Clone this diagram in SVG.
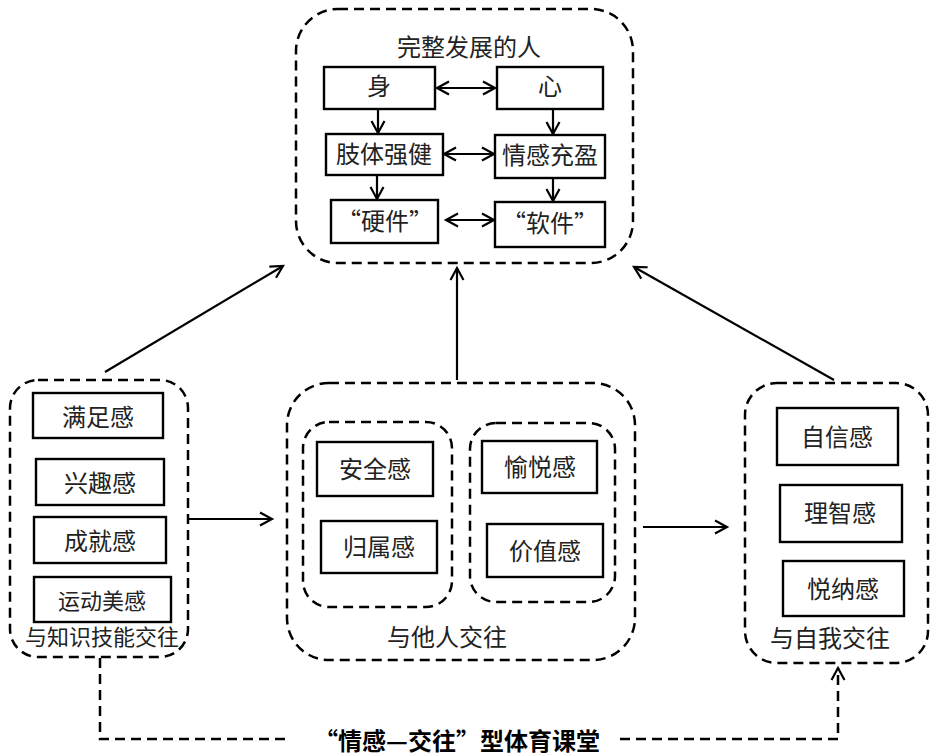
<svg xmlns="http://www.w3.org/2000/svg" width="940" height="756" viewBox="0 0 940 756">
<defs>
<marker id="ah" markerWidth="16" markerHeight="16" refX="13" refY="8" orient="auto-start-reverse" markerUnits="userSpaceOnUse">
<path d="M1,1.5 L13,8 L1,14.5" fill="none" stroke="#000" stroke-width="2.2"/>
</marker>
<style>
.box{fill:#fff;stroke:#000;stroke-width:2.4}
.dash{fill:none;stroke:#000;stroke-width:2.5;stroke-dasharray:10 6}
.t{font-family:"Noto Sans CJK SC","Noto Sans",sans-serif;font-size:24px;fill:#222;text-anchor:middle;dominant-baseline:central}
.ln{fill:none;stroke:#000;stroke-width:2.2}
.title{font-family:"Noto Sans CJK SC","Noto Sans",sans-serif;font-size:24px;font-weight:bold;fill:#000;text-anchor:middle;dominant-baseline:central}
</style>
</defs>
<rect width="940" height="756" fill="#fff"/>

<g id="top">
<rect class="dash" x="296" y="9" width="337" height="254" rx="42"/>
<text class="t" x="469" y="45">完整发展的人</text>
</g>
<g id="shen"><rect class="box" x="324" y="67" width="111" height="42"/><text class="t" x="379" y="84">身</text></g>
<g id="xin"><rect class="box" x="497" y="67" width="106" height="42"/><text class="t" x="550" y="84">心</text></g>
<g id="zhiti"><rect class="box" x="326" y="134" width="117" height="41"/><text class="t" x="384" y="152">肢体强健</text></g>
<g id="qinggan"><rect class="box" x="495" y="135" width="110" height="43"/><text class="t" x="550" y="153">情感充盈</text></g>
<g id="yingjian"><rect class="box" x="331" y="200" width="107" height="43"/><text class="t" x="385" y="219">“硬件”</text></g>
<g id="ruanjian"><rect class="box" x="495" y="202" width="110" height="45"/><text class="t" x="550" y="221">“软件”</text></g>

<g id="left">
<rect class="dash" x="10" y="380" width="178" height="277" rx="28"/>
<text class="t" x="102" y="635" style="font-size:22px">与知识技能交往</text>
</g>
<g id="manzu"><rect class="box" x="33" y="393" width="130" height="45"/><text class="t" x="98" y="415">满足感</text></g>
<g id="xingqu"><rect class="box" x="36" y="459" width="128" height="46"/><text class="t" x="100" y="481">兴趣感</text></g>
<g id="chengjiu"><rect class="box" x="34" y="517" width="132" height="46"/><text class="t" x="100" y="539">成就感</text></g>
<g id="yundong"><rect class="box" x="34" y="577" width="137" height="45"/><text class="t" x="102" y="599" style="font-size:22px">运动美感</text></g>

<g id="middle">
<rect class="dash" x="287" y="383" width="348" height="277" rx="42"/>
<rect class="dash" x="303" y="422" width="149" height="185" rx="26"/>
<rect class="dash" x="470" y="423" width="145" height="179" rx="26"/>
<text class="t" x="447" y="635">与他人交往</text>
</g>
<g id="anquan"><rect class="box" x="317" y="442" width="116" height="54"/><text class="t" x="375" y="467">安全感</text></g>
<g id="guishu"><rect class="box" x="321" y="521" width="116" height="52"/><text class="t" x="379" y="545">归属感</text></g>
<g id="yuyue"><rect class="box" x="482" y="441" width="115" height="52"/><text class="t" x="540" y="465">愉悦感</text></g>
<g id="jiazhi"><rect class="box" x="487" y="524" width="116" height="53"/><text class="t" x="545" y="549">价值感</text></g>

<g id="right">
<rect class="dash" x="745" y="383" width="183" height="280" rx="32"/>
<text class="t" x="830" y="636">与自我交往</text>
</g>
<g id="zixin"><rect class="box" x="777" y="408" width="121" height="57"/><text class="t" x="837" y="435">自信感</text></g>
<g id="lizhi"><rect class="box" x="780" y="485" width="122" height="57"/><text class="t" x="840" y="511">理智感</text></g>
<g id="yuena"><rect class="box" x="783" y="561" width="121" height="55"/><text class="t" x="843" y="587">悦纳感</text></g>

<g id="connectors">
<line class="ln" x1="437" y1="88" x2="495" y2="88" marker-start="url(#ah)" marker-end="url(#ah)"/>
<line class="ln" x1="378" y1="109" x2="378" y2="133" marker-end="url(#ah)"/>
<line class="ln" x1="553" y1="109" x2="553" y2="134" marker-end="url(#ah)"/>
<line class="ln" x1="444" y1="154" x2="494" y2="154" marker-start="url(#ah)" marker-end="url(#ah)"/>
<line class="ln" x1="377" y1="175" x2="377" y2="199" marker-end="url(#ah)"/>
<line class="ln" x1="553" y1="178" x2="553" y2="201" marker-end="url(#ah)"/>
<line class="ln" x1="446" y1="220" x2="494" y2="220" marker-start="url(#ah)" marker-end="url(#ah)"/>
<line class="ln" x1="105" y1="372" x2="283" y2="266" marker-end="url(#ah)"/>
<line class="ln" x1="457" y1="380" x2="457" y2="268" marker-end="url(#ah)"/>
<line class="ln" x1="834" y1="380" x2="634" y2="267" marker-end="url(#ah)"/>
<line class="ln" x1="188" y1="519" x2="272" y2="519" marker-end="url(#ah)"/>
<line class="ln" x1="643" y1="527" x2="727" y2="527" marker-end="url(#ah)"/>
<polyline class="dash" points="100,658 100,739 290,739"/>
<polyline class="dash" points="620,739 838,739 838,668" marker-end="url(#ah)"/>
</g>
<text class="title" x="457" y="739">“情感—交往”型体育课堂</text>
</svg>
